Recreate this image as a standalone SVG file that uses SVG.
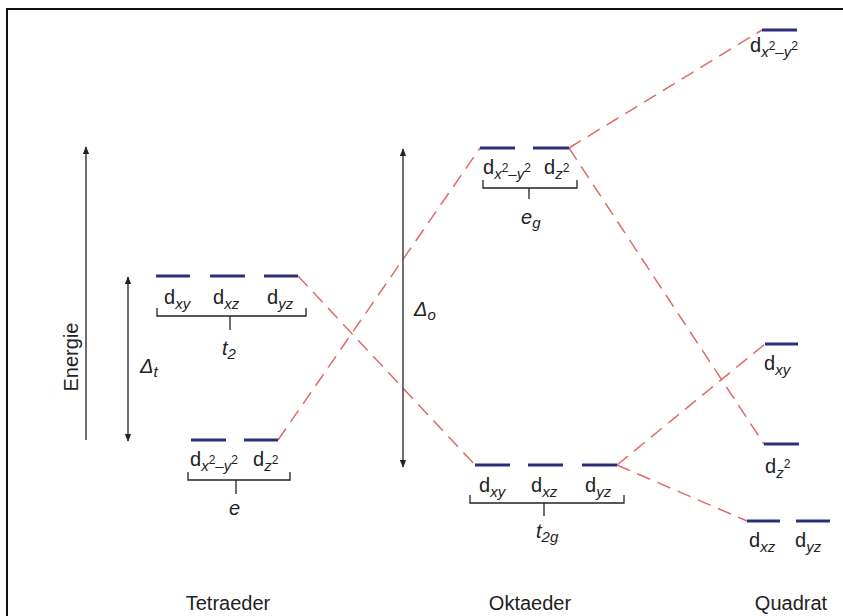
<svg xmlns="http://www.w3.org/2000/svg" width="843" height="616" viewBox="0 0 843 616">
<style>
.lv{stroke:#2b2f7a;stroke-width:3.2;fill:none}
.br{stroke:#222;stroke-width:1.3;fill:none}
.ds{stroke:#e06a6a;stroke-width:1.5;stroke-dasharray:14 8;fill:none}
.ax{stroke:#222;stroke-width:1.3;fill:none}
text{font-family:"Liberation Sans","Noto Sans",sans-serif;fill:#222}
.d{font-size:20px}
.s{font-size:15px;font-style:italic}
.p{font-size:12px}
.t{font-size:20px}
.g{font-size:20px;font-style:italic}
</style>
<defs>
<marker id="ah" viewBox="0 0 10 10" refX="9" refY="5" markerWidth="8" markerHeight="8" orient="auto-start-reverse" markerUnits="userSpaceOnUse">
<path d="M0,1 L10,5 L0,9 Z" fill="#222"/>
</marker>
</defs>
<rect x="0" y="0" width="843" height="616" fill="#fff"/>
<path d="M7,616 V9 H843" stroke="#111" stroke-width="2" fill="none"/>

<g id="connectors">
<line class="ds" x1="298" y1="276" x2="475" y2="465"/>
<line class="ds" x1="278" y1="440" x2="480" y2="148"/>
<line class="ds" x1="569" y1="148" x2="762" y2="30"/>
<line class="ds" x1="569" y1="148" x2="764" y2="444"/>
<line class="ds" x1="617" y1="465" x2="765" y2="344"/>
<line class="ds" x1="617" y1="465" x2="747" y2="521"/>
</g>

<g id="energie-axis">
<line class="ax" x1="86" y1="440" x2="86" y2="147" marker-end="url(#ah)"/>
<text class="t" transform="translate(78,357) rotate(-90)" text-anchor="middle">Energie</text>
</g>

<g id="delta-t">
<line class="ax" x1="128" y1="277" x2="128" y2="441" marker-start="url(#ah)" marker-end="url(#ah)"/>
<text x="140" y="373" class="g">Δ<tspan class="s" dy="4">t</tspan></text>
</g>

<g id="delta-o">
<line class="ax" x1="403" y1="149" x2="403" y2="467" marker-start="url(#ah)" marker-end="url(#ah)"/>
<text x="414" y="316" class="g">Δ<tspan class="s" dy="4">o</tspan></text>
</g>

<g id="tetra-t2">
<line class="lv" x1="156" y1="276" x2="190" y2="276"/>
<line class="lv" x1="210" y1="276" x2="245" y2="276"/>
<line class="lv" x1="264" y1="276" x2="298" y2="276"/>
<text x="164" y="304" class="d">d<tspan class="s" dy="5">xy</tspan></text>
<text x="213" y="304" class="d">d<tspan class="s" dy="5">xz</tspan></text>
<text x="267" y="304" class="d">d<tspan class="s" dy="5">yz</tspan></text>
<path class="br" d="M157,308 V316 H306 V308 M230,316 V330"/>
<text x="222" y="355" class="g">t<tspan class="s" dy="4">2</tspan></text>
</g>

<g id="tetra-e">
<line class="lv" x1="191" y1="440" x2="226" y2="440"/>
<line class="lv" x1="244" y1="440" x2="278" y2="440"/>
<text x="190" y="466" class="d">d<tspan class="s" dy="5">x</tspan><tspan class="p" dy="-7">2</tspan><tspan class="s" dy="7">–y</tspan><tspan class="p" dy="-7">2</tspan></text>
<text x="253" y="466" class="d">d<tspan class="s" dy="5">z</tspan><tspan class="p" dy="-7">2</tspan></text>
<path class="br" d="M188,472 V480 H290 V472 M236,480 V494"/>
<text x="229" y="515" class="g">e</text>
</g>

<g id="okta-eg">
<line class="lv" x1="480" y1="148" x2="515" y2="148"/>
<line class="lv" x1="533" y1="148" x2="569" y2="148"/>
<text x="483" y="174" class="d">d<tspan class="s" dy="5">x</tspan><tspan class="p" dy="-7">2</tspan><tspan class="s" dy="7">–y</tspan><tspan class="p" dy="-7">2</tspan></text>
<text x="544" y="174" class="d">d<tspan class="s" dy="5">z</tspan><tspan class="p" dy="-7">2</tspan></text>
<path class="br" d="M483,180 V188 H577 V180 M529,188 V199"/>
<text x="521" y="224" class="g">e<tspan class="s" dy="4">g</tspan></text>
</g>

<g id="okta-t2g">
<line class="lv" x1="475" y1="465" x2="510" y2="465"/>
<line class="lv" x1="528" y1="465" x2="563" y2="465"/>
<line class="lv" x1="582" y1="465" x2="617" y2="465"/>
<text x="479" y="492" class="d">d<tspan class="s" dy="5">xy</tspan></text>
<text x="531" y="492" class="d">d<tspan class="s" dy="5">xz</tspan></text>
<text x="585" y="492" class="d">d<tspan class="s" dy="5">yz</tspan></text>
<path class="br" d="M470,495 V503 H624 V495 M544,503 V516"/>
<text x="536" y="538" class="g">t<tspan class="s" dy="4">2g</tspan></text>
</g>

<g id="quad-x2y2">
<line class="lv" x1="762" y1="30" x2="797" y2="30"/>
<text x="750" y="52" class="d">d<tspan class="s" dy="5">x</tspan><tspan class="p" dy="-7">2</tspan><tspan class="s" dy="7">–y</tspan><tspan class="p" dy="-7">2</tspan></text>
</g>

<g id="quad-xy">
<line class="lv" x1="765" y1="344" x2="798" y2="344"/>
<text x="764" y="370" class="d">d<tspan class="s" dy="5">xy</tspan></text>
</g>

<g id="quad-z2">
<line class="lv" x1="764" y1="444" x2="799" y2="444"/>
<text x="765" y="473" class="d">d<tspan class="s" dy="5">z</tspan><tspan class="p" dy="-10">2</tspan></text>
</g>

<g id="quad-xz-yz">
<line class="lv" x1="747" y1="521" x2="780" y2="521"/>
<line class="lv" x1="796" y1="521" x2="830" y2="521"/>
<text x="749" y="547" class="d">d<tspan class="s" dy="5">xz</tspan></text>
<text x="795" y="547" class="d">d<tspan class="s" dy="5">yz</tspan></text>
</g>

<g id="titles">
<text x="228" y="610" class="t" text-anchor="middle">Tetraeder</text>
<text x="530" y="610" class="t" text-anchor="middle">Oktaeder</text>
<text x="791" y="610" class="t" text-anchor="middle">Quadrat</text>
</g>
</svg>
